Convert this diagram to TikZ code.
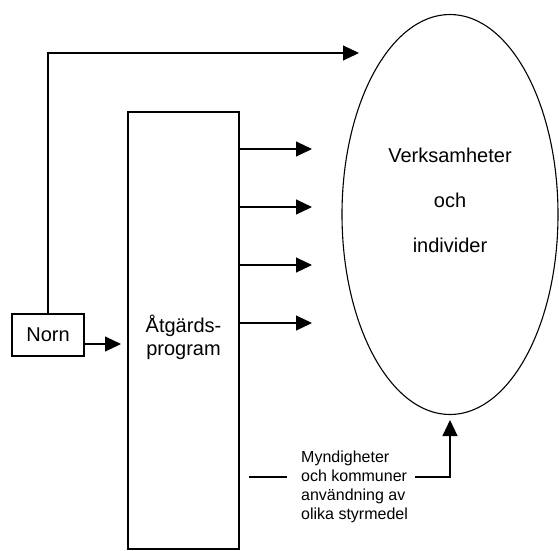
\documentclass[tikz,border=0pt]{standalone}
\usepackage{fontspec}
\setmainfont{Liberation Sans}
\usetikzlibrary{arrows.meta,shapes.geometric}
\begin{document}
\begin{tikzpicture}[x=1pt,y=-1pt,
  line/.style={line width=1.1pt},
  arr/.style={line, -{Triangle[length=16pt,width=15pt]}},
  box/.style={draw, line width=1.1pt, rectangle, inner sep=0pt},
  big/.style={font=\fontsize{20}{23}\selectfont, align=center, inner sep=0pt},
  small/.style={font=\fontsize{16}{19}\selectfont, align=left, inner sep=0pt}]
\useasboundingbox (0,0) rectangle (559,550);
% nodes
\node[box, minimum width=72pt, minimum height=42pt] (norn) at (48,335) {};
\node[big] (norntext) at (48,335) {Norn};
\node[box, minimum width=111pt, minimum height=437pt] (atg) at (183.5,330.5) {};
\node[big] (atgtext) at (183.5,337) {Åtgärds-\\program};
\node[draw, line width=1.1pt, ellipse, minimum width=216pt, minimum height=400pt, inner sep=0pt] (ell) at (450,214.5) {};
\node[big, font=\fontsize{20}{45}\selectfont] (elltext) at (450,200) {Verksamheter\\och\\individer};
\node[small, anchor=west] (mynd) at (301,487) {Myndigheter\\och kommuner\\användning av\\olika styrmedel};
% coordinates
\coordinate (toptip) at (359,53);
\coordinate (nornin) at (121,344);
\coordinate (t1) at (312,149);
\coordinate (t2) at (312,207);
\coordinate (t3) at (312,265);
\coordinate (t4) at (312,323);
\coordinate (la) at (249,477);
\coordinate (lb) at (287,477);
\coordinate (ra) at (415,477);
\coordinate (up) at (450,420);
% connectors
\draw[arr] (norn.north) -- (norn.north |- toptip) -- (toptip);
\draw[arr] (nornin -| norn.east) -- (nornin);
\foreach \t in {t1,t2,t3,t4}{\draw[arr] (\t -| atg.east) -- (\t);}
\draw[line] (la) -- (lb);
\draw[arr] (ra) -| (up);
\end{tikzpicture}
\end{document}
